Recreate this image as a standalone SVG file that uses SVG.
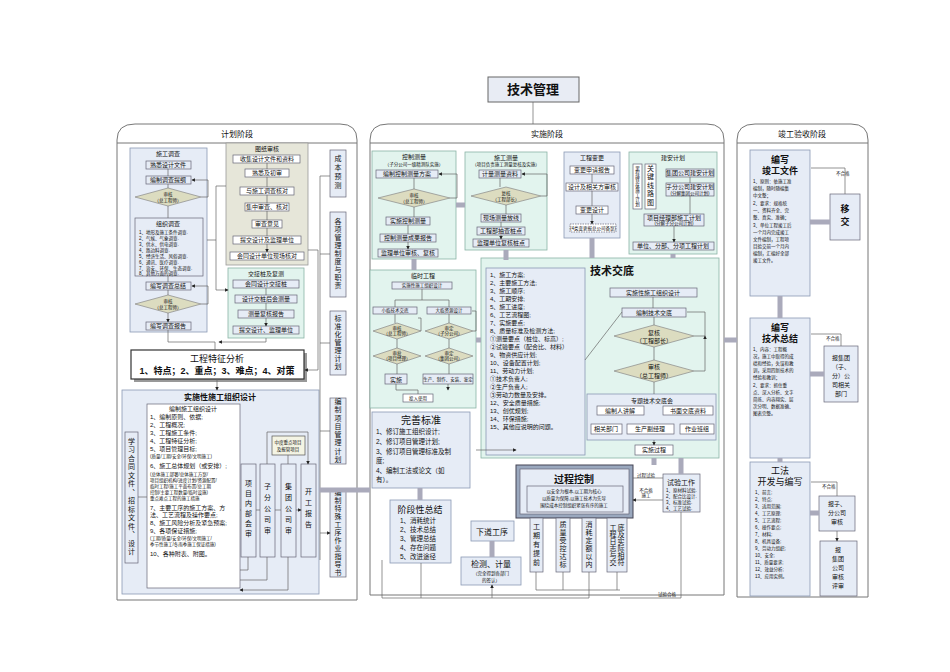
<svg xmlns="http://www.w3.org/2000/svg" width="950" height="672" viewBox="0 0 950 672">
<style>
text{font-family:"Liberation Sans","Noto Sans CJK SC",sans-serif;fill:#111}
.p{fill:#fff;stroke:#777;stroke-width:1}
.bl{fill:#e6ecf6;stroke:#8a9ab5;stroke-width:.8}
.cy{fill:#e2f4ee;stroke:#8ab3a5;stroke-width:.8}
.bg{fill:#e6e6d9;stroke:#999;stroke-width:.8}
.b{fill:#e6ecf6;stroke:#667;stroke-width:.7}
.w{fill:#fff;stroke:#667;stroke-width:.7}
.d{fill:#dcdcc0;stroke:#888;stroke-width:.7}
.s{font-size:6px}
.xs{font-size:4.5px}
.m{font-size:8px}
.c{text-anchor:middle}
.v{writing-mode:vertical-rl;text-orientation:upright;glyph-orientation-vertical:0;text-anchor:middle;font-size:7px;font-family:"Noto Sans CJK SC",sans-serif}
.ln{fill:none;stroke:#666;stroke-width:.7}
.ar{fill:none;stroke:#666;stroke-width:.7;marker-end:url(#a)}
.big{fill:none;stroke:#aab;stroke-width:5}
</style>
<defs><marker id="a" viewBox="0 0 6 6" refX="5" refY="3" markerWidth="5" markerHeight="5" orient="auto"><path d="M0,0L6,3L0,6z" fill="#222"/></marker></defs>
<rect width="950" height="672" fill="#fff"/>

<g id="title"><rect x="488" y="77" width="91" height="25" fill="#e8ecf4" stroke="#666"/><text x="533" y="94" class="c" style="font-size:13px;font-weight:bold">技术管理</text></g>

<g id="left">
<path d="M117,600V140Q117,124 135,124H340Q357,124 357,140V600Z" class="p"/>
<line x1="117" y1="143" x2="357" y2="143" stroke="#777"/>
<text x="237" y="137" class="c m">计划阶段</text>
<rect x="130" y="148" width="77" height="184" class="bl"/>
<text x="168" y="156" class="c s">施工调查</text>
<rect x="146" y="161" width="45" height="8" class="b"/><text x="168" y="167" class="c s">熟悉设计文件</text>
<rect x="146" y="176" width="45" height="8" class="b"/><text x="168" y="182" class="c s">编制调查提纲</text>
<path d="M135,197L168,188L201,197L168,206Z" class="d"/><text x="168" y="196" class="c xs">审核</text><text x="168" y="202" class="c xs">（总工程师）</text>
<rect x="135" y="218" width="68" height="58" class="b"/>
<text x="168" y="226" class="c s">组织调查</text>
<text x="139" y="234" class="xs">1、地形及施工条件调查.</text><text x="139" y="240" class="xs">2、气候、气象调查.</text><text x="139" y="246" class="xs">3、供水、供电调查.</text><text x="139" y="252" class="xs">4、路边料调查.</text><text x="139" y="258" class="xs">5、经济生活、风俗调查.</text><text x="139" y="264" class="xs">6、通讯、医疗调查.</text><text x="139" y="270" class="xs">7、治安、环保、生态调查.</text><text x="139" y="275" class="xs">8、其他方面的调查.</text>
<rect x="146" y="282" width="45" height="8" class="b"/><text x="168" y="288" class="c s">编写调查总结</text>
<path d="M135,304L168,295L201,304L168,313Z" class="d"/><text x="168" y="303" class="c xs">审核</text><text x="168" y="309" class="c xs">（总工程师）</text>
<rect x="146" y="322" width="45" height="8" class="b"/><text x="168" y="328" class="c s">编写调查报告</text>

<rect x="226" y="143" width="82" height="122" class="bg"/>
<text x="267" y="151" class="c s">图纸审核</text>
<rect x="233" y="155" width="67" height="8" class="w"/><text x="267" y="161" class="c s">收集设计文件和资料</text>
<rect x="245" y="169" width="44" height="8" class="w"/><text x="267" y="175" class="c s">熟悉及初审</text>
<rect x="240" y="187" width="54" height="8" class="w"/><text x="267" y="193" class="c s">与施工调查核对</text>
<rect x="245" y="203" width="44" height="8" class="w"/><text x="267" y="209" class="c s">集中审查、核对</text>
<rect x="252" y="220" width="30" height="8" class="w"/><text x="267" y="226" class="c s">审查意见</text>
<rect x="233" y="236" width="68" height="8" class="w"/><text x="267" y="242" class="c s">提交设计及监理单位</text>
<rect x="230" y="252" width="74" height="8" class="w"/><text x="267" y="258" class="c s">会同设计单位现场核对</text>

<rect x="228" y="268" width="76" height="70" class="cy"/>
<text x="266" y="276" class="c s">交接桩及复测</text>
<rect x="233" y="280" width="66" height="8" class="b"/><text x="266" y="286" class="c s">会同设计交接桩</text>
<rect x="235" y="295" width="62" height="8" class="b"/><text x="266" y="301" class="c s">设计交桩后会测量</text>
<rect x="238" y="310" width="56" height="8" class="b"/><text x="266" y="316" class="c s">测量复核报告</text>
<rect x="233" y="326" width="66" height="8" class="b"/><text x="266" y="332" class="c s">提交设计、监理单位</text>

<rect x="134" y="353" width="173" height="29" fill="#999"/>
<rect x="131" y="350" width="173" height="29" fill="#fff" stroke="#333" stroke-width="1.2"/>
<text x="217" y="362" class="c" style="font-size:9px">工程特征分析</text>
<text x="217" y="374" class="c" style="font-size:9px;font-weight:bold">1、特点；2、重点；3、难点；4、对策</text>

<rect x="330" y="150" width="16" height="47" class="b"/><text x="338" y="173" class="v" style="letter-spacing:2px">成本预测</text>
<rect x="330" y="212" width="16" height="85" class="b"/><text x="338" y="254" class="v" style="letter-spacing:1px">各项管理制度与职责</text>
<rect x="330" y="311" width="16" height="64" class="b"/><text x="338" y="343" class="v" style="letter-spacing:1px">标准化管理计划</text>
<rect x="330" y="398" width="16" height="66" class="b"/><text x="338" y="431" class="v" style="letter-spacing:1.3px">编制项目管理计划</text>
<rect x="330" y="489" width="16" height="88" class="b"/><text x="338" y="533" class="v" style="letter-spacing:1px">编制特殊工序作业指导书</text>

<rect x="122" y="390" width="197" height="204" class="bl"/>
<text x="220" y="400" class="c m" style="font-weight:bold">实施性施工组织设计</text>
<rect x="125" y="432" width="13" height="131" class="b"/><text x="131.5" y="497" class="v" style="font-size:7px;letter-spacing:1.5px">学习合同文件、招标文件、设计</text>
<rect x="147" y="404" width="93" height="184" class="w"/>
<text x="193" y="411" class="c s">编制施工组织设计</text>
<g class="s">
<text x="150" y="419">1、编制原则、依据;</text><text x="150" y="427">2、工程概况;</text><text x="150" y="435">3、工程施工条件;</text><text x="150" y="443">4、工程特征分析;</text><text x="150" y="451">5、项目管理目标;</text><text x="150" y="458" class="xs">(质量/工期/安全/环保/文明施工)</text>
<text x="150" y="468">6、施工总体规划（或安排）;</text>
<text x="150" y="476" class="xs">(总体施工部署/总体施工方案/</text><text x="150" y="482" class="xs">项目组织机构/进度计划/资源配置/</text><text x="150" y="488" class="xs">临时工程/施工平面布置/总工期</text><text x="150" y="494" class="xs">控制/主要工程数量/临时设施)</text><text x="150" y="500" class="xs">重点难点工程的施工措施</text>
<text x="150" y="510">7、主要工序的施工方案、方</text><text x="150" y="517">法、工艺流程及操作要点;</text><text x="150" y="525">8、施工风险分析及紧急预案;</text><text x="150" y="533">9、各项保证措施;</text><text x="150" y="540" class="xs">(工期/质量/安全/环保/文明施工/</text><text x="150" y="546" class="xs">季节性施工/冬雨季施工保证措施)</text><text x="150" y="556">10、各种附表、附图。</text>
</g>
<rect x="241" y="464" width="15" height="93" class="b"/><text x="248.5" y="510" class="v" style="letter-spacing:3px">项目内部会审</text>
<rect x="260" y="464" width="15" height="93" class="b"/><text x="267.5" y="510" class="v" style="letter-spacing:4px">子分公司审</text>
<rect x="281" y="464" width="15" height="93" class="b"/><text x="288.5" y="510" class="v" style="letter-spacing:4px">集团公司审</text>
<rect x="301" y="464" width="15" height="93" class="b"/><text x="308.5" y="510" class="v" style="letter-spacing:4px">开工报告</text>
<rect x="272" y="436" width="33" height="19" fill="#f4f4e4" stroke="#555" stroke-width=".7"/><text x="288" y="444" class="c xs">中度重点项目</text><text x="288" y="451" class="c xs">及报管项目</text>
</g>

<g id="mid">
<path d="M370,595V140Q370,124 388,124H707Q724,124 724,140V595Z" class="p"/>
<line x1="370" y1="143" x2="724" y2="143" stroke="#777"/>
<text x="547" y="137" class="c m">实施阶段</text>
<rect x="372" y="151" width="84" height="108" class="cy"/>
<text x="414" y="159" class="c s">控制测量</text><text x="414" y="166" class="c xs">（子分公司一级精测队实施）</text>
<rect x="376" y="170" width="62" height="8" class="b"/><text x="407" y="176" class="c s">编制控制测量方案</text>
<path d="M378,198L414,189L450,198L414,207Z" class="d"/><text x="414" y="197" class="c xs">审核</text><text x="414" y="203" class="c xs">（总工程师）</text>
<rect x="386" y="217" width="44" height="8" class="b"/><text x="408" y="223" class="c s">实施控制测量</text>
<rect x="380" y="234" width="56" height="8" class="b"/><text x="408" y="240" class="c s">控制测量成果报告</text>
<rect x="378" y="249" width="60" height="8" class="b"/><text x="408" y="255" class="c s">监理单位审核、复核</text>

<rect x="465" y="152" width="82" height="98" class="cy"/>
<text x="506" y="160" class="c s">施工测量</text><text x="506" y="166" class="c xs">（项目负责施工测量复核及实施）</text>
<rect x="479" y="170" width="42" height="8" class="b"/><text x="500" y="176" class="c s">计量测量资料</text>
<path d="M471,196L506,187L541,196L506,205Z" class="d"/><text x="506" y="195" class="c xs">复核</text><text x="506" y="201" class="c xs">（工程部长）</text>
<rect x="481" y="214" width="40" height="8" class="b"/><text x="501" y="220" class="c s">现场测量放线</text>
<rect x="477" y="227" width="48" height="8" class="b"/><text x="501" y="233" class="c s">工程部抽查桩点</text>
<rect x="473" y="239" width="56" height="8" class="b"/><text x="501" y="245" class="c s">监理单位复核桩点</text>

<rect x="564" y="152" width="56" height="86" class="bl"/>
<text x="592" y="160" class="c s">工程变更</text>
<rect x="570" y="166" width="44" height="8" class="w"/><text x="592" y="172" class="c s">变更申请报告</text>
<rect x="566" y="183" width="52" height="8" class="w"/><text x="592" y="189" class="c s">设计及相关方审核</text>
<rect x="576" y="206" width="32" height="8" class="w"/><text x="592" y="212" class="c s">变更设计</text>
<rect x="570" y="224" width="46" height="8" fill="#fff" stroke="#667" stroke-dasharray="1.5,1" stroke-width=".7"/><text x="593" y="230" class="c xs">(4类变更报总公司备案)</text>

<rect x="629" y="152" width="88" height="102" class="cy"/>
<text x="673" y="160" class="c s">建安计划</text>
<rect x="633" y="164" width="9" height="45" class="w"/><text x="637.5" y="186" class="v" style="font-size:4.5px">里程碑总体施工计划</text>
<rect x="645" y="164" width="11" height="45" class="w"/><text x="650.5" y="186" class="v" style="font-size:7px;letter-spacing:1.5px">关键线路图</text>
<rect x="666" y="169" width="48" height="8" class="b"/><text x="690" y="175" class="c s">集团公司建安计划</text>
<rect x="666" y="183" width="48" height="13" class="b"/><text x="690" y="189" class="c s">子分公司建安计划</text><text x="690" y="195" class="c xs">(分解集团公司计划)</text>
<rect x="644" y="214" width="60" height="12" class="b"/><text x="674" y="220" class="c s">项目经理部施工计划</text><text x="674" y="225" class="c xs">(分解子分公司计划)</text>
<rect x="633" y="242" width="81" height="8" class="b"/><text x="673" y="248" class="c s">单位、分部、分项工程计划</text>

<rect x="370" y="270" width="106" height="138" class="cy"/>
<text x="423" y="278" class="c s">临时工程</text>
<rect x="392" y="282" width="60" height="7" class="b"/><text x="422" y="287" class="c xs">实施性施工组织设计</text>
<rect x="373" y="307" width="44" height="7" class="b"/><text x="395" y="312" class="c xs">小临技术交底</text>
<rect x="427" y="307" width="44" height="7" class="b"/><text x="449" y="312" class="c xs">大临资源设计</text>
<path d="M373,331L397,323L421,331L397,339Z" class="d"/><text x="397" y="330" class="c xs">审核</text><text x="397" y="335" class="c xs">（总工程师）</text>
<path d="M425,331L449,323L473,331L449,339Z" class="d"/><text x="449" y="330" class="c xs">审定</text><text x="449" y="335" class="c xs">（子分公司）</text>
<path d="M373,356L397,348L421,356L397,364Z" class="d"/><text x="397" y="355" class="c xs">审批</text><text x="397" y="360" class="c xs">（项目经理）</text>
<path d="M425,356L449,348L473,356L449,364Z" class="d"/><text x="449" y="355" class="c xs">审定</text><text x="449" y="360" class="c xs">（集团公司）</text>
<rect x="385" y="374" width="22" height="10" class="b"/><text x="396" y="382" class="c s">实施</text>
<rect x="423" y="374" width="50" height="10" class="b"/><text x="448" y="381" class="c xs">生产、制作、安装、鉴定</text>
<rect x="403" y="394" width="30" height="8" class="w"/><text x="418" y="400" class="c xs">投入使用</text>

<rect x="372" y="412" width="98" height="76" class="bl"/>
<text x="421" y="424" class="c" style="font-size:10px">完善标准</text>
<g style="font-size:6.5px"><text x="376" y="434">1、修订施工组织设计;</text><text x="376" y="444">2、修订项目管理计划;</text><text x="376" y="454">3、修订项目管理标准及制</text><text x="376" y="463">度;</text><text x="376" y="473">4、编制工法或论文（如</text><text x="376" y="482">有）。</text></g>

<rect x="481" y="258" width="238" height="200" class="cy"/>
<text x="590" y="275" style="font-size:11px;font-weight:bold">技术交底</text>
<rect x="486" y="268" width="99" height="187" class="bl"/>
<g style="font-size:6px">
<text x="490" y="277">1、施工方案;</text><text x="490" y="285">2、主要施工方法;</text><text x="490" y="293">3、施工顺序;</text><text x="490" y="301">4、工期安排;</text><text x="490" y="309">5、施工进度;</text><text x="490" y="317">6、工艺流程图;</text><text x="490" y="325">7、实施要点;</text><text x="490" y="333">8、质量标准及检测方法;</text><text x="490" y="341">①测量要点（桩位、标高）;</text><text x="490" y="349">②试验要点（配合比、材料）</text><text x="490" y="357">9、物资供应计划;</text><text x="490" y="365">10、设备配置计划;</text><text x="490" y="373">11、劳动力计划;</text><text x="490" y="381">①技术负责人;</text><text x="490" y="389">②生产负责人;</text><text x="490" y="397">③劳动力数量及安排。</text><text x="490" y="405">12、安全质量措施;</text><text x="490" y="413">13、创优规划;</text><text x="490" y="421">14、环保措施;</text><text x="490" y="429">15、其他应说明的问题。</text>
</g>
<rect x="610" y="288" width="87" height="9" class="b"/><text x="653" y="295" class="c s">实施性施工组织设计</text>
<rect x="622" y="308" width="64" height="9" class="b"/><text x="654" y="315" class="c s">编制技术交底</text>
<path d="M614,336L654,325L694,336L654,347Z" class="d"/><text x="654" y="335" class="c s">复核</text><text x="654" y="343" class="c s">（工程部长）</text>
<path d="M614,371L654,360L694,371L654,382Z" class="d"/><text x="654" y="369" class="c s">审核</text><text x="654" y="378" class="c s">（总工程师）</text>
<rect x="587" y="394" width="129" height="46" class="bl"/>
<text x="652" y="403" class="c s">专题技术交底会</text>
<rect x="597" y="406" width="47" height="9" class="w"/><text x="620" y="413" class="c s">编制人讲解</text>
<rect x="663" y="406" width="50" height="9" class="w"/><text x="688" y="413" class="c s">书面交底资料</text>
<rect x="591" y="424" width="31" height="10" class="w"/><text x="606" y="431" class="c s">相关部门</text>
<rect x="627" y="424" width="47" height="10" class="w"/><text x="650" y="431" class="c s">生产副经理</text>
<rect x="680" y="424" width="34" height="10" class="w"/><text x="697" y="431" class="c s">作业班组</text>
<rect x="635" y="445" width="38" height="10" class="w"/><text x="654" y="452" class="c s">实施过程</text>

<rect x="516" y="465" width="117" height="53" fill="#9aa8be" stroke="#445"/>
<rect x="520" y="469" width="109" height="45" class="b"/>
<text x="574" y="483" class="c" style="font-size:10px;font-weight:bold">过程控制</text>
<rect x="527" y="486" width="96" height="26" class="b"/>
<text x="574" y="493" class="c xs">以安全为根本,以工期为核心</text><text x="574" y="500" class="c xs">以质量为保障,以施工技术为先导</text><text x="574" y="507" class="c xs">围绕成本控制组织紧张有序的施工</text>
<rect x="663" y="474" width="37" height="38" class="b"/>
<text x="681" y="485" class="c" style="font-size:7px">试验工作</text>
<text x="666" y="492" class="xs">1、原材料试验.</text><text x="666" y="498" class="xs">2、配合比设计.</text><text x="666" y="504" class="xs">3、标准试验.</text><text x="666" y="510" class="xs">4、工艺试验.</text>
<text x="646" y="477" class="c xs">过程试验</text><text x="646" y="492" class="c xs">不合格</text><text x="646" y="497" class="c xs">施工</text>
<rect x="530" y="518" width="13" height="54" class="b"/><text x="536.5" y="545" class="v" style="letter-spacing:2px">工期有提前</text>
<rect x="556" y="518" width="14" height="54" class="b"/><text x="563" y="545" class="v" style="letter-spacing:1px">质量受控达标</text>
<rect x="582" y="518" width="14" height="54" class="b"/><text x="589" y="545" class="v" style="letter-spacing:1px">消耗定额以内</text>
<rect x="607" y="518" width="20" height="54" class="b"/><text x="613" y="545" class="v" style="font-size:7px">工程日志与交</text><text x="621" y="545" class="v" style="font-size:7px">底及实际相符</text>

<rect x="390" y="500" width="61" height="63" class="bl"/>
<text x="420" y="513" class="c" style="font-size:9px">阶段性总结</text>
<g style="font-size:6.5px"><text x="400" y="523">1、消耗统计</text><text x="400" y="532">2、技术总结</text><text x="400" y="541">3、管理总结</text><text x="400" y="550">4、存在问题</text><text x="400" y="559">5、改进途径</text></g>
<rect x="471" y="521" width="43" height="20" class="bl"/><text x="492" y="535" class="c" style="font-size:8px">下道工序</text>
<rect x="461" y="557" width="60" height="28" class="bl"/><text x="491" y="567" class="c" style="font-size:8px">检测、计量</text><text x="491" y="575" class="c xs">（完全得到各部门</text><text x="491" y="582" class="c xs">的签认）</text>
<text x="658" y="596" class="xs">试验合格</text>
</g>

<g id="right">
<path d="M737,597V140Q737,124 755,124H851Q868,124 868,140V597Z" class="p"/>
<line x1="737" y1="143" x2="868" y2="143" stroke="#777"/>
<text x="802" y="137" class="c m">竣工验收阶段</text>
<rect x="750" y="150" width="60" height="146" class="bl"/>
<text x="780" y="163" class="c" style="font-size:9px;font-weight:bold">编写</text><text x="780" y="174" class="c" style="font-size:9px;font-weight:bold">竣工文件</text>
<g class="xs"><text x="753" y="183">1、原则：依施工准</text><text x="753" y="190">编制，随时随编集</text><text x="753" y="197">中文整；</text><text x="753" y="205">2、要求：规格统</text><text x="753" y="212">一、资料齐全、完</text><text x="753" y="219">整、真实、准确；</text><text x="753" y="227">3、单位工程竣工后</text><text x="753" y="234">一个月内完成竣工</text><text x="753" y="241">文件编制，工程项</text><text x="753" y="248">目验交前一个月内</text><text x="753" y="255">编制，汇编好全部</text><text x="753" y="262">竣工文件。</text></g>
<rect x="830" y="194" width="30" height="46" class="b"/><text x="845" y="212" class="c" style="font-size:9px;font-weight:bold">移</text><text x="845" y="225" class="c" style="font-size:9px;font-weight:bold">交</text>
<text x="836" y="175" class="xs">不合格</text>
<rect x="750" y="318" width="60" height="140" class="bl"/>
<text x="780" y="331" class="c" style="font-size:9px;font-weight:bold">编写</text><text x="780" y="342" class="c" style="font-size:9px;font-weight:bold">技术总结</text>
<g class="xs"><text x="753" y="351">1、内容：工程概</text><text x="753" y="358">况，施工中取得的成</text><text x="753" y="365">绩和经验，失误和教</text><text x="753" y="372">训，采用四新技术的</text><text x="753" y="379">经验和教训；</text><text x="753" y="387">2、要求：抓住重</text><text x="753" y="394">点、深入分析、文字</text><text x="753" y="401">简练、内容翔实、层</text><text x="753" y="408">次分明、数据准确、</text><text x="753" y="415">图表完整。</text></g>
<rect x="824" y="346" width="34" height="56" class="b"/><text x="841" y="360" class="c s">报集团</text><text x="841" y="369" class="c s">（子、</text><text x="841" y="378" class="c s">分）公</text><text x="841" y="387" class="c s">司相关</text><text x="841" y="396" class="c s">部门</text>
<text x="826" y="340" class="xs">不合格</text>
<rect x="750" y="462" width="60" height="134" class="bl"/>
<text x="780" y="474" class="c" style="font-size:9px">工法</text><text x="780" y="485" class="c" style="font-size:9px">开发与编写</text>
<g class="xs"><text x="755" y="494">1、前言;</text><text x="755" y="501">2、特点;</text><text x="755" y="508">3、适用范围;</text><text x="755" y="515">4、工艺原理;</text><text x="755" y="522">5、工艺流程;</text><text x="755" y="529">6、操作要点;</text><text x="755" y="536">7、材料;</text><text x="755" y="543">8、机具设备;</text><text x="755" y="550">9、劳动力组织;</text><text x="755" y="557">10、安全;</text><text x="755" y="564">11、质量要求;</text><text x="755" y="571">12、效益分析;</text><text x="755" y="578">13、应用实例。</text></g>
<rect x="819" y="496" width="36" height="35" class="b"/><text x="837" y="506" class="c s">报子、</text><text x="837" y="515" class="c s">分公司</text><text x="837" y="524" class="c s">审核</text>
<text x="822" y="488" class="xs">不合格</text>
<rect x="820" y="541" width="37" height="55" class="b"/><text x="838" y="552" class="c s">报</text><text x="838" y="561" class="c s">集团</text><text x="838" y="570" class="c s">公司</text><text x="838" y="579" class="c s">审核</text><text x="838" y="588" class="c s">评审</text>
</g>

<g id="connectors">
<line x1="533" y1="102" x2="533" y2="124" class="ln"/>
<path d="M168,169V176M168,184V188M168,206V218M168,276V282M168,290V295M168,313V322" class="ar"/>
<path d="M201,197H208V180H192" class="ar"/><path d="M201,304H208V286H192" class="ar"/>
<path d="M267,163V169M267,177V187M267,195V203M267,211V220M267,228V236M267,244V252" class="ar"/>
<path d="M266,288V295M266,303V310M266,318V326" class="ar"/>
<path d="M207,240H216V186H226M216,240V290H228" class="ar"/>
<path d="M168,330V342H215V350M266,338V342H219" class="ar"/>
<path d="M308,250H318V370H305" class="ar"/>
<path d="M320,176H330M320,176V560M320,254H330M320,343H330M320,431H330M320,533H330" class="ar"/>
<path d="M217,379V390" class="ar"/>
<path d="M138,497H147M240,510H241M256,510H260M275,510H281M296,510H301" class="ar"/>
<path d="M248,557V570H240M267,557V580H240M288,557V590H240" class="ar"/>
<path d="M267,464V432H308V464" class="ar"/>
<path d="M288,455V464" class="ln"/>
<path d="M414,178V189M414,207V217M408,225V234M408,242V249" class="ar"/>
<path d="M450,198H457V174H439" class="ar"/>
<path d="M500,178V187M506,205V214M501,222V227M501,235V239" class="ar"/>
<path d="M541,196H547V174H522" class="ar"/>
<path d="M592,174V183M592,191V206M592,214V224" class="ar"/>
<path d="M690,177V183M690,196V214M674,226V242" class="ar"/>
<path d="M422,289V300H395V307M422,300H449V307M395,314V323M449,314V323M397,339V348M449,339V348M397,364V374M449,364V374M396,384V390H418V394M448,384V390" class="ar"/>
<path d="M421,331V318H418M473,331H476V311H472" class="ln"/>
<path d="M653,297V308M654,317V325M654,347V360M654,382V394M654,440V445" class="ar"/>
<path d="M694,336H705V312H687M694,371H705V336" class="ar"/>
<path d="M585,360L622,312" class="ln"/>
<path d="M456,205H465M414,259V270M506,250V260M592,238V258M673,254V258M476,340H481" class="big"/>
<path d="M654,458V465M681,458V474M420,488V500M492,541V557" class="big"/>
<path d="M476,450H516" class="ar"/>
<path d="M633,478H663M663,500H633" class="ar"/>
<path d="M536,572V590H620M563,572V590M589,572V590M617,572V590M589,590V598H382V560M421,598V563M492,598V585" class="ar"/>
<path d="M681,512V598H620" class="ln"/>
<path d="M319,490H370" class="big"/>
<path d="M724,340H737M810,222H830M810,374H824M810,513H819M780,296V318M780,458V462" class="big"/>
<path d="M845,194V168H811M841,346V334H811M837,496V482H811M837,531V541" class="ar"/>
</g>
</svg>
